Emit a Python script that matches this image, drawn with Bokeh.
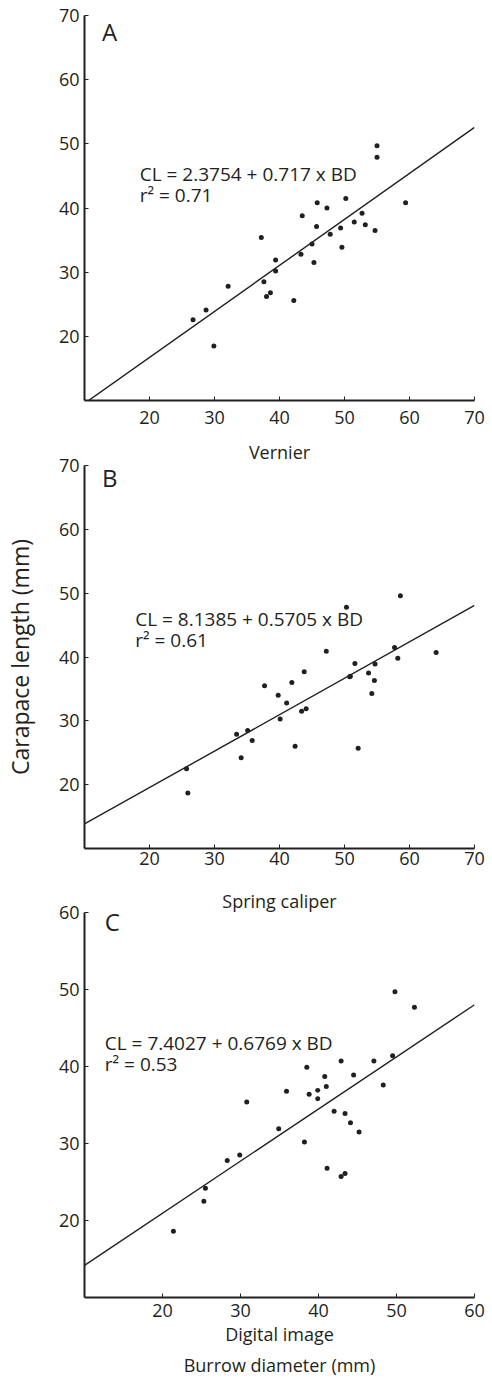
from bokeh.plotting import figure
from bokeh.models import Range1d, FixedTicker, Label, Title
from bokeh.layouts import column
from bokeh.embed import file_html
from bokeh.resources import INLINE

# ---------------- data ----------------
vernier_x = [26.7, 28.7, 29.9, 32.1, 37.2, 37.6, 38.0, 38.6, 39.4, 39.4, 42.2, 43.3, 43.5,
             45.0, 45.3, 45.7, 45.8, 47.3, 47.8, 49.4, 49.6, 50.2, 51.5, 52.7, 53.2, 54.7,
             55.0, 55.0, 59.4]
vernier_y = [22.6, 24.1, 18.5, 27.8, 35.4, 28.5, 26.2, 26.8, 31.9, 30.2, 25.6, 32.8, 38.8,
             34.4, 31.5, 37.1, 40.8, 40.0, 35.9, 36.9, 33.9, 41.5, 37.8, 39.2, 37.4, 36.5,
             49.7, 47.9, 40.8]

spring_x = [25.7, 25.9, 33.4, 34.1, 35.1, 35.8, 37.7, 39.8, 40.1, 41.1, 41.9, 42.4, 43.4,
            43.8, 44.1, 47.2, 50.3, 50.8, 50.9, 51.6, 52.1, 53.7, 54.2, 54.6, 54.7, 57.7,
            58.2, 58.6, 64.1]
spring_y = [22.5, 18.7, 27.9, 24.2, 28.5, 26.9, 35.5, 34.0, 30.3, 32.8, 36.0, 26.0, 31.5,
            37.7, 31.9, 40.9, 47.8, 36.9, 37.0, 39.0, 25.7, 37.5, 34.3, 36.3, 38.9, 41.5,
            39.8, 49.6, 40.7]

digital_x = [21.4, 25.3, 25.5, 28.3, 29.9, 30.8, 34.9, 35.9, 38.2, 38.5, 38.8, 39.9, 39.9,
             40.8, 41.0, 41.1, 42.0, 42.9, 42.9, 43.4, 43.4, 44.1, 44.5, 45.2, 47.1, 48.3,
             49.5, 49.8, 52.3]
digital_y = [18.6, 22.5, 24.2, 27.8, 28.5, 35.4, 31.9, 36.8, 30.2, 39.9, 36.4, 36.9, 35.8,
             38.7, 37.4, 26.8, 34.2, 40.7, 25.7, 33.9, 26.1, 32.7, 38.9, 31.5, 40.7, 37.6,
             41.4, 49.7, 47.7]

# regression equations (intercept, slope) as printed
fit_A = (2.3754, 0.717)
fit_B = (8.1385, 0.5705)
fit_C = (7.4027, 0.6769)

eq_A = ["CL = 2.3754 + 0.717 x BD", "r\u00b2 = 0.71"]
eq_B = ["CL = 8.1385 + 0.5705 x BD", "r\u00b2 = 0.61"]
eq_C = ["CL = 7.4027 + 0.6769 x BD", "r\u00b2 = 0.53"]

ticks_AB = [20, 30, 40, 50, 60, 70]
ticks_C = [20, 30, 40, 50, 60]

FONT = "Open Sans"
INK = "#231f20"


def make_panel(xs, ys, fit, eq, letter, rng, ticks, width, height, mb, eq_pos, letter_pos,
               xstandoff):
    p = figure(width=width, height=height, output_backend="svg", toolbar_location=None,
               x_range=Range1d(rng[0], rng[1]), y_range=Range1d(rng[0], rng[1]),
               min_border_left=mb[0], min_border_right=mb[1],
               min_border_top=mb[2], min_border_bottom=mb[3])
    p.outline_line_color = None
    p.grid.visible = False
    p.background_fill_color = "white"
    p.border_fill_color = "white"
    for ax in (p.xaxis[0], p.yaxis[0]):
        ax.ticker = FixedTicker(ticks=ticks)
        ax.axis_line_color = INK
        ax.axis_line_width = 2
        ax.major_tick_in = 4
        ax.major_tick_out = 0
        ax.major_tick_line_color = INK
        ax.minor_tick_line_color = None
        ax.major_label_text_font = FONT
        ax.major_label_text_font_size = "18px"
        ax.major_label_text_color = INK
    p.xaxis.major_label_standoff = xstandoff
    p.yaxis.major_label_standoff = 5

    x0, x1 = rng
    p.line([x0, x1], [fit[0] + fit[1] * x0, fit[0] + fit[1] * x1], line_color=INK, line_width=1.4)
    p.scatter(xs, ys, size=5, fill_color=INK, line_color=None)

    ex, ey1, ey2 = eq_pos
    for txt, yy in zip(eq, (ey1, ey2)):
        p.add_layout(Label(x=ex, y=yy, text=txt, text_font=FONT, text_font_size="19px",
                           text_color=INK, text_baseline="middle"))
    p.add_layout(Label(x=letter_pos[0], y=letter_pos[1], text=letter, text_font=FONT,
                       text_font_size="24px", text_color=INK, text_baseline="middle"))
    return p


pA = make_panel(vernier_x, vernier_y, fit_A, eq_A, "A", (10, 70), ticks_AB,
                492, 435, (82, 14, 15, 35), (18.5, 45.24, 41.97), (12.7, 67.58), 10)
pB = make_panel(spring_x, spring_y, fit_B, eq_B, "B", (10, 70), ticks_AB,
                492, 441, (82, 14, 29, 28), (17.8, 45.9, 42.6), (12.7, 68.16), 3)
pC = make_panel(digital_x, digital_y, fit_C, eq_C, "C", (10, 60), ticks_C,
                492, 511, (79, 18, 36, 90), (12.6, 43.05, 40.36), (12.6, 58.77), 6)

# axis titles
pB.yaxis.axis_label = "Carapace length (mm)"
pB.yaxis.axis_label_text_font = FONT
pB.yaxis.axis_label_text_font_size = "23px"
pB.yaxis.axis_label_text_font_style = "normal"
pB.yaxis.axis_label_text_color = INK
pB.yaxis.axis_label_standoff = 20


def axis_title(p, txt, place, offset, standoff):
    p.add_layout(Title(text=txt, align="center", offset=offset, standoff=standoff,
                       text_font=FONT, text_font_size="18px", text_font_style="normal",
                       text_color=INK), place)


# x-axis titles (each placed in the canvas area just under its panel's axis)
axis_title(pB, "Vernier", "above", 12, 4)
axis_title(pC, "Spring caliper", "above", 22, 0)
axis_title(pC, "Digital image", "below", 20, 0)
axis_title(pC, "Burrow diameter (mm)", "below", 13, 10)

layout = column(pA, pB, pC)
open("out.html", "w").write(file_html(layout, INLINE))
